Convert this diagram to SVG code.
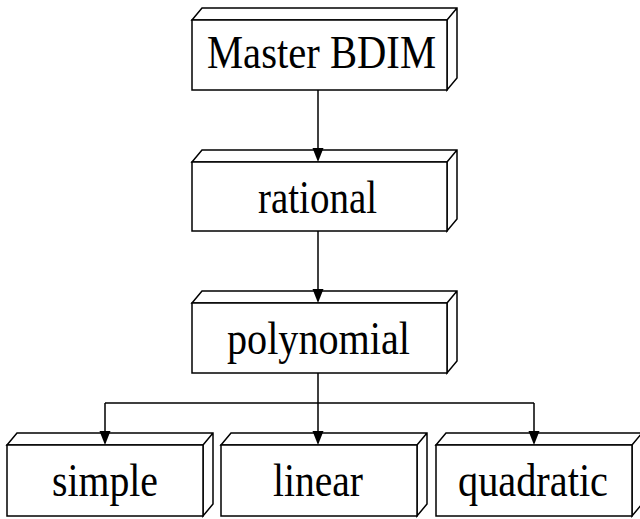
<svg xmlns="http://www.w3.org/2000/svg" width="640" height="519" viewBox="0 0 640 519">
<style>
.box{fill:#fff;stroke:#000;stroke-width:1.5;stroke-linejoin:miter}
.lbl{font-family:"Liberation Serif","Times New Roman",serif;font-size:46px;fill:#000;text-anchor:middle}
.con{fill:none;stroke:#000;stroke-width:1.5}
.ah{fill:#000;stroke:none}
</style>
<rect width="640" height="519" fill="#fff"/>
<g id="master">
<path class="box" d="M192,20 L202,8 L457,8 L457,78 L447,90 L447,20 Z M447,20 L457,8"/>
<rect class="box" x="192" y="20" width="255" height="70"/>
<text class="lbl" x="321.5" y="68" textLength="229" lengthAdjust="spacingAndGlyphs">Master BDIM</text>
</g>
<g id="rational">
<path class="box" d="M192,162 L202,150 L457,150 L457,219 L447,231 L447,162 Z M447,162 L457,150"/>
<rect class="box" x="192" y="162" width="255" height="69"/>
<text class="lbl" x="317.5" y="213" textLength="119" lengthAdjust="spacingAndGlyphs">rational</text>
</g>
<g id="polynomial">
<path class="box" d="M192,303 L202,291 L457,291 L457,361 L447,373 L447,303 Z M447,303 L457,291"/>
<rect class="box" x="192" y="303" width="255" height="70"/>
<text class="lbl" x="318.5" y="354" textLength="183" lengthAdjust="spacingAndGlyphs">polynomial</text>
</g>
<g id="simple">
<path class="box" d="M7,445 L17,433 L213,433 L213,504 L203,516 L203,445 Z M203,445 L213,433"/>
<rect class="box" x="7" y="445" width="196" height="71"/>
<text class="lbl" x="105" y="496" textLength="106" lengthAdjust="spacingAndGlyphs">simple</text>
</g>
<g id="linear">
<path class="box" d="M221,445 L231,433 L427,433 L427,504 L417,516 L417,445 Z M417,445 L427,433"/>
<rect class="box" x="221" y="445" width="196" height="71"/>
<text class="lbl" x="318" y="496" textLength="90" lengthAdjust="spacingAndGlyphs">linear</text>
</g>
<g id="quadratic">
<path class="box" d="M436,445 L446,433 L642,433 L642,504 L632,516 L632,445 Z M632,445 L642,433"/>
<rect class="box" x="436" y="445" width="196" height="71"/>
<text class="lbl" x="533" y="496" textLength="150" lengthAdjust="spacingAndGlyphs">quadratic</text>
</g>
<g id="connectors">
<path class="con" d="M318,90 V150"/>
<path class="con" d="M318,231 V291"/>
<path class="con" d="M318,373 V403 M105,403 H534 M105,403 V433 M318,403 V433 M534,403 V433"/>
<path class="ah" d="M312.5,148 L323.5,148 L318,162 Z"/>
<path class="ah" d="M312.5,289 L323.5,289 L318,303 Z"/>
<path class="ah" d="M99.5,431 L110.5,431 L105,445 Z"/>
<path class="ah" d="M312.5,431 L323.5,431 L318,445 Z"/>
<path class="ah" d="M528.5,431 L539.5,431 L534,445 Z"/>
</g>
</svg>
